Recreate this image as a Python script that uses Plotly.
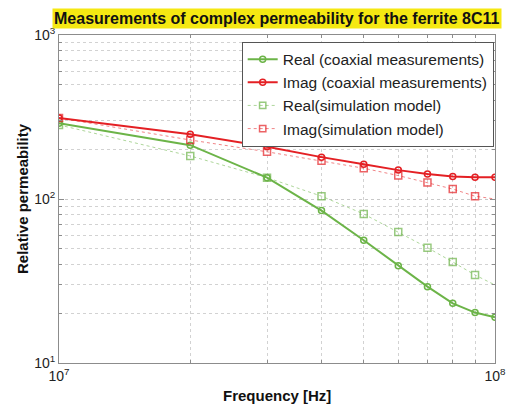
import plotly.graph_objects as go

freq_hz = [1e7, 2e7, 3e7, 4e7, 5e7, 6e7, 7e7, 8e7, 9e7, 1e8]
real_coax = [290, 213, 135, 85, 56, 39.2, 29.2, 23.1, 20.3, 19.0]
imag_coax = [312, 248, 208, 180, 163, 150, 142, 137, 135.6, 135.6]
real_sim = [283, 183, 135, 104, 81, 63, 50.5, 41.3, 34.4, 29.9]
imag_sim = [312, 229, 194, 171, 154, 139, 126, 115, 104, 100]
sim_marker_shown = [1, 1, 1, 1, 1, 1, 1, 1, 1, 0]

x_tickvals = [1e7, 1e8]
x_ticktext = ["10<sup>7</sup>", "10<sup>8</sup>"]
y_tickvals = [10, 100, 1000]
y_ticktext = ["10<sup>1</sup>", "10<sup>2</sup>", "10<sup>3</sup>"]

title_text = "Measurements of complex permeability for the ferrite 8C11"
x_title = "Frequency [Hz]"
y_title = "Relative permeability"

GREEN = "rgb(108,180,72)"
RED = "rgb(228,32,36)"
FONT = "Liberation Sans, Arial, sans-serif"

fig = go.Figure()
fig.add_trace(go.Scatter(x=freq_hz, y=real_coax, mode="lines+markers",
                         name="Real (coaxial measurements)",
                         line=dict(color=GREEN, width=2),
                         marker=dict(symbol="circle-open", size=6, color=GREEN, line=dict(width=1.5))))
fig.add_trace(go.Scatter(x=freq_hz, y=imag_coax, mode="lines+markers",
                         name="Imag (coaxial measurements)",
                         line=dict(color=RED, width=2),
                         marker=dict(symbol="circle-open", size=6, color=RED, line=dict(width=1.5))))
fig.add_trace(go.Scatter(x=freq_hz, y=real_sim, mode="lines+markers",
                         name="Real(simulation model)",
                         line=dict(color="rgba(108,180,72,0.55)", width=1, dash="dot"),
                         marker=dict(symbol="square-open", size=[7 * s for s in sim_marker_shown],
                                     color=GREEN, line=dict(width=1.5, color=GREEN))))
fig.add_trace(go.Scatter(x=freq_hz, y=imag_sim, mode="lines+markers",
                         name="Imag(simulation model)",
                         line=dict(color="rgba(228,32,36,0.55)", width=1, dash="dot"),
                         marker=dict(symbol="square-open", size=[7 * s for s in sim_marker_shown],
                                     color=RED, line=dict(width=1.5, color=RED))))

axis_common = dict(
    type="log", showline=True, linecolor="#8c8c8c",
    linewidth=1, mirror="allticks", ticks="inside", ticklen=5, tickcolor="#8c8c8c",
    showgrid=True, gridcolor="#c8c8c8", griddash="dot", gridwidth=1, zeroline=False,
    tickfont=dict(family=FONT, size=14, color="#222"),
    minor=dict(showgrid=True, gridcolor="#d2d2d2", griddash="dot", ticks="inside",
               ticklen=3, tickcolor="#8c8c8c", dtick="D1"),
)

fig.update_xaxes(range=[7, 8], tickmode="array", tickvals=x_tickvals, ticktext=x_ticktext,
                 **axis_common)
fig.update_yaxes(range=[1, 3], tickmode="array", tickvals=y_tickvals, ticktext=y_ticktext,
                 **axis_common)

fig.update_layout(
    width=518, height=407,
    margin=dict(l=59, r=12, t=35, b=44),
    paper_bgcolor="white", plot_bgcolor="white",
    font=dict(family=FONT, color="#222"),
    showlegend=True,
    legend=dict(x=0.997, y=0.98, xanchor="right", yanchor="top",
                bgcolor="white", bordercolor="#555", borderwidth=1,
                font=dict(family=FONT, size=15.5, color="#222"),
                tracegroupgap=0, itemwidth=30),
    annotations=[
        dict(text="<b>" + title_text + "</b>", xref="paper", yref="paper",
             x=0.5, y=1, yshift=17, xanchor="center", yanchor="middle", showarrow=False,
             bgcolor="#f5e812", font=dict(family=FONT, size=16, color="#111")),
        dict(text="<b>" + x_title + "</b>", xref="paper", yref="paper",
             x=0.5, y=0, yshift=-32, xanchor="center", yanchor="middle", showarrow=False,
             font=dict(family=FONT, size=15, color="#111")),
        dict(text="<b>" + y_title + "</b>", xref="paper", yref="paper",
             x=0, xshift=-37, y=0.5, xanchor="center", yanchor="middle", showarrow=False,
             textangle=-90, font=dict(family=FONT, size=15, color="#111")),
    ],
)

post = (
    "document.documentElement.style.margin='0';"
    "document.documentElement.style.overflow='hidden';"
    "document.body.style.margin='0';"
    "document.body.style.overflow='hidden';"
    "var d=document.getElementById('{plot_id}');"
    "d.style.position='fixed';d.style.left='0px';d.style.top='0px';"
)
fig.write_html("out.html", post_script=post, config={"displayModeBar": False})
